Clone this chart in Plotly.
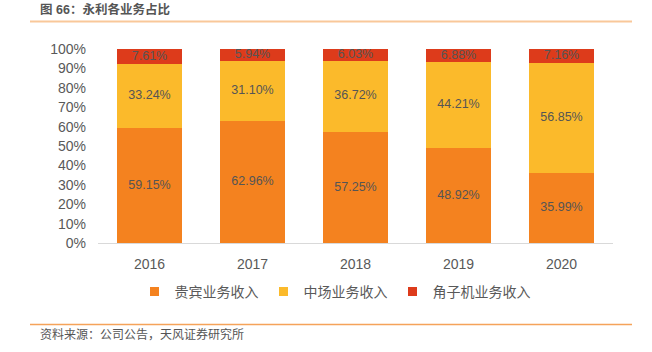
import plotly.graph_objects as go

years = ["2016", "2017", "2018", "2019", "2020"]
vip = [59.15, 62.96, 57.25, 48.92, 35.99]
mass = [33.24, 31.10, 36.72, 44.21, 56.85]
slot = [7.61, 5.94, 6.03, 6.88, 7.16]

names = ["贵宾业务收入", "中场业务收入", "角子机业务收入"]
colors = ["#F4821F", "#FBBA2B", "#DD3B1B"]

W, H = 652, 352
L, R, T, B = 98, 613, 49, 243

FONT = "Liberation Sans, Arial, Noto Sans CJK SC, sans-serif"

fig = go.Figure()
series = [vip, mass, slot]
base = [0.0] * len(years)
for name, vals, col in zip(names, series, colors):
    fig.add_trace(go.Bar(
        x=years, y=vals, name=name, marker=dict(color=col, line=dict(width=0)),
        showlegend=False, hoverinfo="skip",
    ))
    mids = [b + v / 2 for b, v in zip(base, vals)]
    fig.add_trace(go.Scatter(
        x=years, y=mids, mode="text", text=[f"{v:.2f}%" for v in vals],
        textposition="middle center", showlegend=False, cliponaxis=False,
        textfont=dict(color="#555555", size=12.5, family=FONT), hoverinfo="skip",
    ))
    base = [b + v for b, v in zip(base, vals)]

for name, col in zip(names, colors):
    fig.add_trace(go.Scatter(
        x=[None], y=[None], mode="markers", name=name,
        marker=dict(symbol="square", size=9, color=col),
    ))

def px(x):
    return (x - L) / (R - L)

def py(y):
    return (B - y) / (B - T)

fig.update_layout(
    width=W, height=H, barmode="stack", bargap=0.37,
    margin=dict(l=L, r=W - R, t=T, b=H - B, pad=0),
    paper_bgcolor="white", plot_bgcolor="white",
    font=dict(family=FONT, color="#595959", size=14),
    xaxis=dict(showline=True, linecolor="#D9D9D9", linewidth=1, ticks="",
               tickfont=dict(size=14, color="#595959"), showgrid=False,
               ticklabelstandoff=8),
    yaxis=dict(range=[0, 100], dtick=10, ticksuffix="%", showgrid=False,
               showline=False, zeroline=False, tickfont=dict(size=14, color="#595959"),
               ticklabelstandoff=11),
    legend=dict(orientation="h", x=px(335), xanchor="center", y=py(292), yanchor="middle",
                font=dict(size=14, color="#595959"), itemwidth=30,
                traceorder="normal"),
    showlegend=True,
)

fig.add_annotation(text="<b>图 66：永利各业务占比</b>", xref="paper", yref="paper",
                   x=px(38), y=py(9), xanchor="left", yanchor="middle", showarrow=False,
                   font=dict(size=12.5, color="#555555"))
fig.add_annotation(text="资料来源：公司公告，天风证券研究所", xref="paper", yref="paper",
                   x=px(38), y=py(334), xanchor="left", yanchor="middle", showarrow=False,
                   font=dict(size=12, color="#555555"))
fig.add_shape(type="line", xref="paper", yref="paper", x0=px(30), x1=px(632),
              y0=py(21.5), y1=py(21.5), line=dict(color="#F9C89A", width=2))
fig.add_shape(type="line", xref="paper", yref="paper", x0=px(30), x1=px(632),
              y0=py(324.5), y1=py(324.5), line=dict(color="#F5A35A", width=1.5))

fig.write_html("out.html")
